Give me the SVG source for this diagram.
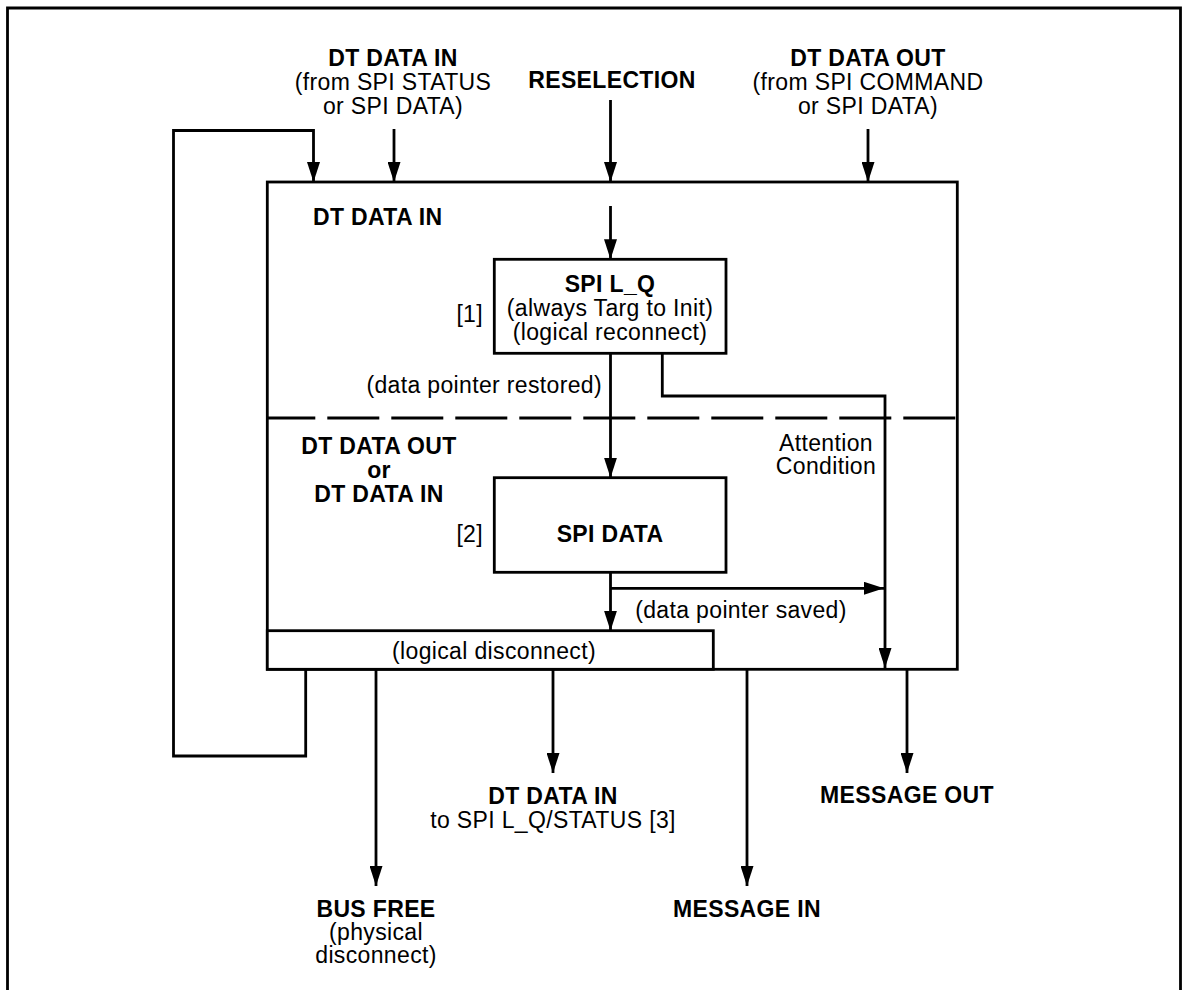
<svg xmlns="http://www.w3.org/2000/svg" width="1182" height="990" viewBox="0 0 1182 990">
<style>
.ln{fill:none;stroke:#000;stroke-width:2.8}
.bx{fill:#fff;stroke:#000;stroke-width:2.8}
.t{font-family:"Liberation Sans",Arial,Helvetica,sans-serif;font-size:23px;letter-spacing:0.35px;fill:#000}
.b{font-weight:bold}
.m{text-anchor:middle}
.e{text-anchor:end}
</style>
<defs>
<marker id="ah" markerUnits="userSpaceOnUse" markerWidth="20" markerHeight="13" refX="20" refY="6.5" orient="auto">
<path d="M0,0 L20,6.5 L0,13 z" fill="#000"/>
</marker>
</defs>
<rect width="1182" height="990" fill="#fff"/>
<path class="ln" d="M7.5,990 V8 H1180.5 V990"/>

<g id="main">
<rect class="bx" x="267.3" y="182" width="690" height="487.3"/>
<line x1="267.3" y1="418" x2="957.3" y2="418" stroke="#000" stroke-width="2.8" stroke-dasharray="52 12" stroke-dashoffset="4"/>
<text class="t b" x="313" y="225">DT DATA IN</text>
<text class="t b m" x="379" y="454">DT DATA OUT</text>
<text class="t b m" x="379" y="478">or</text>
<text class="t b m" x="379" y="502">DT DATA IN</text>
</g>

<g id="spi_lq">
<rect class="bx" x="494.3" y="259.3" width="231.7" height="94"/>
<text class="t b m" x="610" y="292">SPI L_Q</text>
<text class="t m" x="610" y="316">(always Targ to Init)</text>
<text class="t m" x="610" y="340">(logical reconnect)</text>
<text class="t e" x="483" y="322">[1]</text>
</g>

<g id="spi_data">
<rect class="bx" x="494.3" y="477.7" width="231.7" height="94.6"/>
<text class="t b m" x="610" y="542">SPI DATA</text>
<text class="t e" x="483" y="542">[2]</text>
</g>

<g id="logical_disconnect">
<rect class="bx" x="267.3" y="630.7" width="446" height="38.6"/>
<text class="t m" x="494" y="659">(logical disconnect)</text>
</g>

<g id="labels">
<text class="t b m" x="393" y="66">DT DATA IN</text>
<text class="t m" x="393" y="90">(from SPI STATUS</text>
<text class="t m" x="393" y="114">or SPI DATA)</text>
<text class="t b m" x="612" y="88">RESELECTION</text>
<text class="t b m" x="868" y="66">DT DATA OUT</text>
<text class="t m" x="868" y="90">(from SPI COMMAND</text>
<text class="t m" x="868" y="114">or SPI DATA)</text>
<text class="t e" x="602" y="393">(data pointer restored)</text>
<text class="t m" x="826" y="451">Attention</text>
<text class="t m" x="826" y="474">Condition</text>
<text class="t m" x="741" y="618">(data pointer saved)</text>
<text class="t b m" x="553" y="804">DT DATA IN</text>
<text class="t m" x="553" y="828">to SPI L_Q/STATUS [3]</text>
<text class="t b m" x="907" y="803">MESSAGE OUT</text>
<text class="t b m" x="376" y="917">BUS FREE</text>
<text class="t m" x="376" y="940">(physical</text>
<text class="t m" x="376" y="963">disconnect)</text>
<text class="t b m" x="747" y="917">MESSAGE IN</text>
</g>

<g id="connectors">
<path class="ln" d="M305.7,669 V756 H173.5 V130.5 H313.5 V182" marker-end="url(#ah)"/>
<line class="ln" x1="394" y1="129" x2="394" y2="182" marker-end="url(#ah)"/>
<line class="ln" x1="610.5" y1="100" x2="610.5" y2="182" marker-end="url(#ah)"/>
<line class="ln" x1="868" y1="129" x2="868" y2="182" marker-end="url(#ah)"/>
<line class="ln" x1="610.5" y1="206" x2="610.5" y2="259.3" marker-end="url(#ah)"/>
<line class="ln" x1="610.5" y1="353.3" x2="610.5" y2="477.7" marker-end="url(#ah)"/>
<path class="ln" d="M662.3,353.3 V396 H885 V668" marker-end="url(#ah)"/>
<line class="ln" x1="610.5" y1="572.3" x2="610.5" y2="630.7" marker-end="url(#ah)"/>
<line class="ln" x1="610.5" y1="588.3" x2="884" y2="588.3" marker-end="url(#ah)"/>
<line class="ln" x1="376" y1="669" x2="376" y2="886" marker-end="url(#ah)"/>
<line class="ln" x1="553" y1="669" x2="553" y2="773" marker-end="url(#ah)"/>
<line class="ln" x1="747" y1="669" x2="747" y2="886" marker-end="url(#ah)"/>
<line class="ln" x1="907" y1="669" x2="907" y2="773" marker-end="url(#ah)"/>
</g>
</svg>
